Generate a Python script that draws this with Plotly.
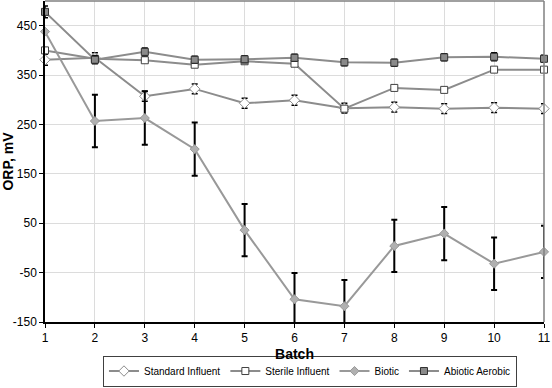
import plotly.graph_objects as go

batch = [1, 2, 3, 4, 5, 6, 7, 8, 9, 10, 11]
standard_influent = [381, 385, 307, 322, 293, 299, 283, 285, 282, 284, 282]
standard_err = [11, 10, 10, 10, 10, 10, 10, 10, 10, 10, 10]
sterile_influent = [400, 383, 380, 371, 378, 373, 282, 324, 320, 361, 361]
biotic = [438, 257, 263, 200, 36, -104, -118, 4, 29, -32, -8]
biotic_err = [0, 53, 54, 54, 53, 53, 53, 53, 54, 53, 53]
abiotic_aerobic = [478, 381, 397, 381, 382, 385, 376, 375, 386, 387, 383]
abiotic_err = [12, 8, 8, 7, 7, 7, 7, 7, 7, 8, 7]

y_ticks = [-150, -50, 50, 150, 250, 350, 450]
y_tick_labels = ["-150", "-50", "50", "150", "250", "350", "450"]
x_ticks = batch
x_tick_labels = [str(b) for b in batch]

LINE = "#8c8c8c"
FONT = "Liberation Sans, Arial, sans-serif"

fig = go.Figure()

fig.add_trace(go.Scatter(
    x=batch, y=standard_influent, name="Standard Influent", mode="lines+markers",
    line=dict(color=LINE, width=2),
    marker=dict(symbol="diamond", size=8, color="white", line=dict(color=LINE, width=1)),
    error_y=dict(type="data", array=standard_err, color="black", thickness=1.5, width=3),
    cliponaxis=False,
))
fig.add_trace(go.Scatter(
    x=batch, y=sterile_influent, name="Sterile Influent", mode="lines+markers",
    line=dict(color=LINE, width=2),
    marker=dict(symbol="square", size=7, color="white", line=dict(color="#404040", width=1)),
    cliponaxis=False,
))
fig.add_trace(go.Scatter(
    x=batch, y=biotic, name="Biotic", mode="lines+markers",
    line=dict(color="#999999", width=2),
    marker=dict(symbol="diamond", size=7, color="#b0b0b0", line=dict(color="#999999", width=1)),
    error_y=dict(type="data", array=biotic_err, color="black", thickness=2, width=3),
    cliponaxis=False,
))
fig.add_trace(go.Scatter(
    x=batch, y=abiotic_aerobic, name="Abiotic Aerobic", mode="lines+markers",
    line=dict(color=LINE, width=2),
    marker=dict(symbol="square", size=7, color="#8a8a8a", line=dict(color="#303030", width=1)),
    error_y=dict(type="data", array=abiotic_err, color="black", thickness=1.5, width=3),
    cliponaxis=False,
))

fig.update_layout(
    width=552, height=388,
    margin=dict(l=45, r=6, t=1, b=65),
    paper_bgcolor="white", plot_bgcolor="white",
    font=dict(family=FONT, size=12, color="black"),
    showlegend=True,
    legend=dict(
        orientation="h", x=0.531, xanchor="center", y=-0.201, yanchor="bottom",
        bordercolor="#404040", borderwidth=1, font=dict(size=10),
        itemwidth=30, tracegroupgap=0,
    ),
    xaxis=dict(
        range=[1, 11], tickvals=x_ticks, ticktext=x_tick_labels,
        ticks="outside", ticklen=4, tickcolor="black",
        ticklabeloverflow="allow", automargin=True,
        showgrid=True, gridcolor="#dcdcdc", gridwidth=1,
        showline=True, linecolor="black", linewidth=1.5, mirror=False,
        zeroline=False,
        title=dict(text="<b>Batch</b>", font=dict(size=14), standoff=5),
    ),
    yaxis=dict(
        range=[-150, 500], tickvals=y_ticks, ticktext=y_tick_labels,
        ticks="outside", ticklen=4, tickcolor="black",
        ticklabeloverflow="allow", automargin=False,
        showgrid=True, gridcolor="#dcdcdc", gridwidth=1,
        showline=True, linecolor="black", linewidth=1.5,
        zeroline=False,
        title=dict(text="<b>ORP, mV</b>", font=dict(size=14), standoff=8),
    ),
    shapes=[
        dict(type="line", xref="paper", yref="paper", x0=0, x1=1, y0=1, y1=1,
             line=dict(color="#808080", width=1.5)),
        dict(type="line", xref="paper", yref="paper", x0=1, x1=1, y0=0, y1=1,
             line=dict(color="#808080", width=1.5)),
    ],
)

fig.write_html(
    "out.html",
    config={"displayModeBar": False},
    post_script="document.body.style.margin='0';document.body.style.overflow='hidden';",
)
